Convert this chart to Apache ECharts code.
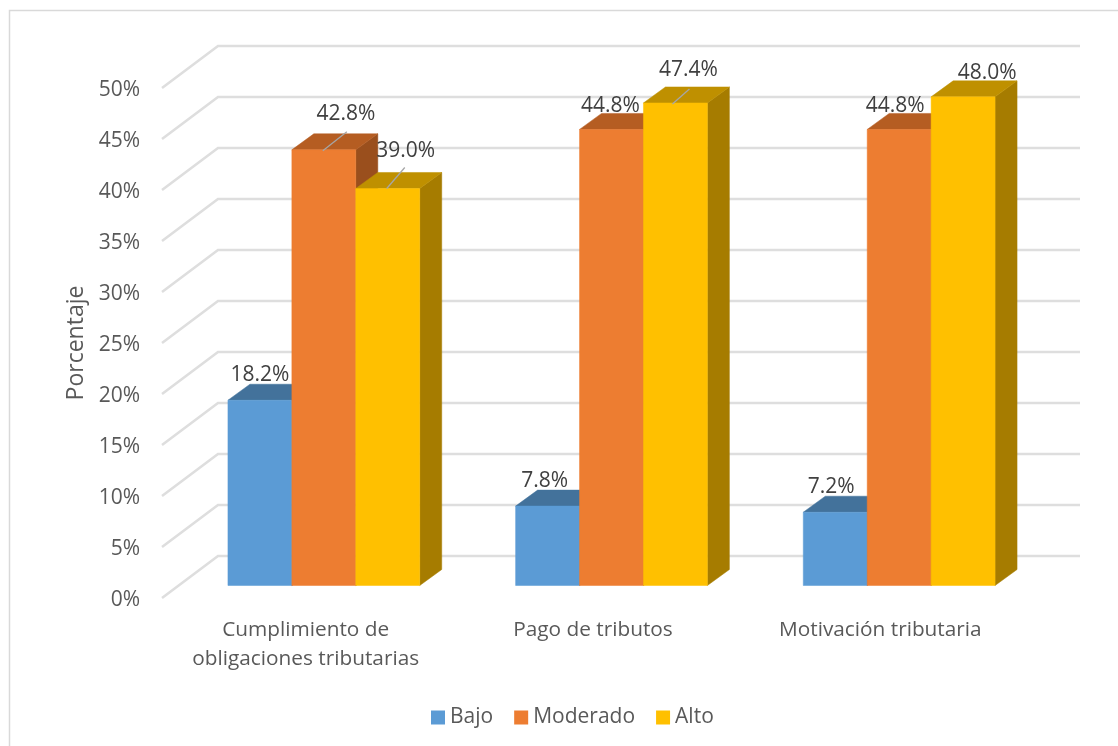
<!DOCTYPE html>
<html>
<head>
<meta charset="utf-8">
<style>html,body{margin:0;padding:0;background:#fff}#c{width:1118px;height:746px}</style>
<script src="https://cdn.jsdelivr.net/npm/echarts@6/dist/echarts.min.js"></script>
</head>
<body>
<div id="c"></div>
<script>
const categories = ['Cumplimiento de\nobligaciones tributarias', 'Pago de tributos', 'Motivación tributaria'];
const bajo = [18.2, 7.8, 7.2];
const moderado = [42.8, 44.8, 44.8];
const alto = [39.0, 47.4, 48.0];
const yTicks = [0, 5, 10, 15, 20, 25, 30, 35, 40, 45, 50];

const FONT = '"Open Sans","Noto Sans",sans-serif';
const DEPTH = [22, -16];
const WALL = [56, -42];
const styles = [
  {front: '#5B9BD5', top: '#43729B', side: '#3F6E98'},
  {front: '#ED7D31', top: '#B55D22', side: '#9A4F1D'},
  {front: '#FFC000', top: '#BF9000', side: '#A67C00'}
];
// label offset from the top centre of each bar, and optional leader line end points
const labelLayout = [
  [{o: [0, -25]}, {o: [-3, -25]}, {o: [-4, -25]}],
  [{o: [22, -36], l: [[-1, 1], [23, -18]]}, {o: [-1, -23]}, {o: [-4, -23]}],
  [{o: [18, -37], l: [[-1, 0], [17, -21]]}, {o: [13, -33], l: [[-3, 1], [14, -14]]}, {o: [24, -24]}]
];

function poly(points, fill) {
  return {type: 'polygon', shape: {points}, style: {fill, stroke: fill, lineWidth: 0.5}};
}
function barRenderer(s) {
  return function (params, api) {
    const i = api.value(0), v = api.value(1);
    const t = api.coord([i, v]), b = api.coord([i, 0]);
    const w = api.size([1, 0])[0] * 2 / 9;
    const cx = t[0] + w * (s - 1);
    const x0 = cx - w / 2, x1 = cx + w / 2;
    const [dx, dy] = DEPTH;
    const st = styles[s];
    const layout = labelLayout[s][i];
    const children = [
      poly([[x1, t[1]], [x1 + dx, t[1] + dy], [x1 + dx, b[1] + dy], [x1, b[1]]], st.side),
      poly([[x0, t[1]], [x0 + dx, t[1] + dy], [x1 + dx, t[1] + dy], [x1, t[1]]], st.top),
      poly([[x0, t[1]], [x1, t[1]], [x1, b[1]], [x0, b[1]]], st.front)
    ];
    if (layout.l) {
      children.push({type: 'line', z2: 9,
        shape: {x1: cx + layout.l[0][0], y1: t[1] + layout.l[0][1], x2: cx + layout.l[1][0], y2: t[1] + layout.l[1][1]},
        style: {stroke: '#A6A6A6', lineWidth: 1.3}});
    }
    children.push({type: 'text', z2: 10,
      x: cx + layout.o[0], y: t[1] + layout.o[1],
      style: {text: v.toFixed(1) + '%', fill: '#404040', font: '21px ' + FONT, align: 'center', verticalAlign: 'middle'}});
    return {type: 'group', children};
  };
}
function wallRenderer(params, api) {
  const y = api.coord([0, api.value(0)])[1];
  const c = params.coordSys;
  return {type: 'polyline',
    shape: {points: [[c.x, y], [c.x + WALL[0], y + WALL[1]], [c.x + c.width + WALL[0], y + WALL[1]]]},
    style: {stroke: '#DEDEDE', lineWidth: 2.5, fill: 'none'}};
}
function barSeries(name, values, s) {
  return {
    name, type: 'custom', xAxisIndex: 1, yAxisIndex: 1, z: 3,
    renderItem: barRenderer(s),
    itemStyle: {color: styles[s].front},
    encode: {x: 0, y: 1},
    data: values.map((v, i) => [i, v])
  };
}

const chart = echarts.init(document.getElementById('c'), null, {renderer: 'canvas'});
chart.setOption({
  animation: false,
  backgroundColor: '#fff',
  graphic: [{type: 'rect', silent: true, z: 0,
    shape: {x: 9.5, y: 10.5, width: 1300, height: 900},
    style: {fill: 'none', stroke: '#D9D9D9', lineWidth: 1.5}}],
  grid: [
    {left: 162, top: 88, width: 862, height: 510},
    {left: 180, top: 76.5, width: 863, height: 509}
  ],
  xAxis: [
    {type: 'category', gridIndex: 0, data: categories,
      axisLine: {show: false}, axisTick: {show: false},
      axisLabel: {color: '#595959', fontFamily: FONT, fontSize: 20.8, lineHeight: 29, margin: 18, interval: 0}},
    {type: 'category', gridIndex: 1, data: categories, show: false}
  ],
  yAxis: [
    {type: 'value', gridIndex: 0, min: 0, max: 50, interval: 5,
      name: 'Porcentaje', nameLocation: 'middle', nameGap: 73, nameRotate: 90,
      nameTextStyle: {color: '#595959', fontFamily: FONT, fontSize: 23},
      axisLine: {show: false}, axisTick: {show: false}, splitLine: {show: false},
      axisLabel: {color: '#595959', fontFamily: FONT, fontSize: 21, margin: 22, formatter: '{a|{value}%}',
        rich: {a: {color: '#595959', fontFamily: FONT, fontSize: 21, padding: [4, 0, 0, 0]}}}},
    {type: 'value', gridIndex: 1, min: 0, max: 50, interval: 5, show: false, splitLine: {show: false}}
  ],
  legend: {
    left: 431, top: 707, padding: 0, itemWidth: 14, itemHeight: 14, itemGap: 21, icon: 'rect',
    textStyle: {color: '#595959', fontFamily: FONT, fontSize: 21},
    data: ['Bajo', 'Moderado', 'Alto']
  },
  series: [
    {type: 'custom', xAxisIndex: 0, yAxisIndex: 0, z: 1, silent: true,
      renderItem: wallRenderer, encode: {y: 0}, data: yTicks.map(v => [v])},
    barSeries('Bajo', bajo, 0),
    barSeries('Moderado', moderado, 1),
    barSeries('Alto', alto, 2)
  ]
});
</script>
</body>
</html>
